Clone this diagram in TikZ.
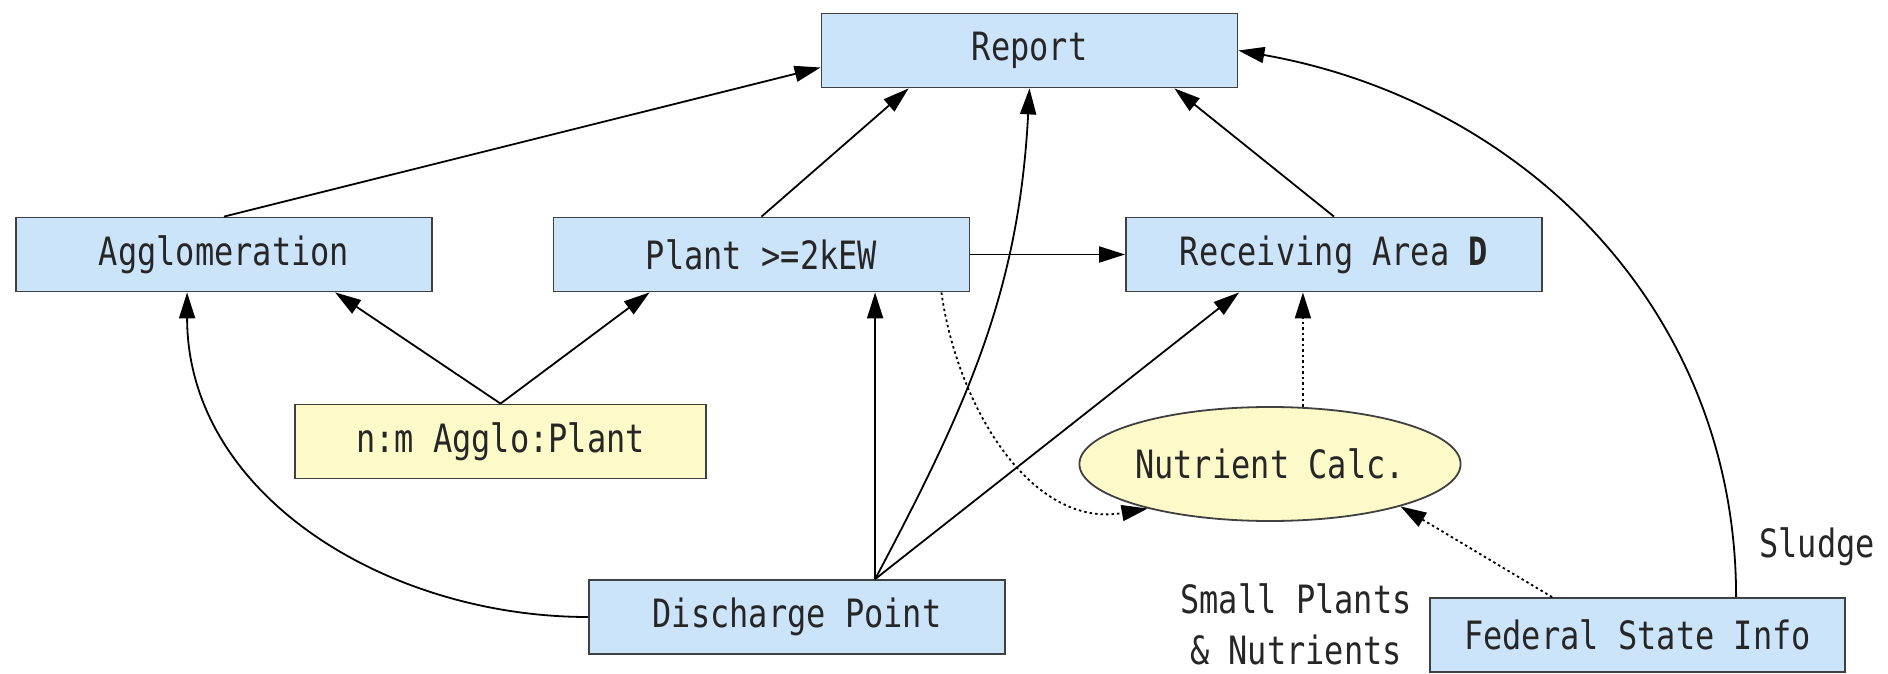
\documentclass[tikz,border=0pt]{standalone}
\usepackage{fontspec}
\setmonofont[FakeStretch=0.82]{DejaVu Sans Mono}
\usetikzlibrary{arrows.meta, calc, shapes.geometric, positioning}
\definecolor{boxblue}{HTML}{CCE4FA}
\definecolor{calcyellow}{HTML}{FCFAC8}

\begin{document}
\begin{tikzpicture}[x=1pt, y=-1pt,
        box/.style={draw=black!75, fill=boxblue, line width=1.8pt, minimum width=416pt, minimum height=74pt, inner sep=0pt, text=black!85, font=\ttfamily\fontsize{39}{44}\selectfont},
        lbl/.style={text=black!85, font=\ttfamily\fontsize{39}{51}\selectfont},
        link/.style={line width=1.8pt, -{Triangle[length=26pt, width=16pt]}},
        calclink/.style={link, dash pattern=on 2.5pt off 3pt}]
        \useasboundingbox (0,0) rectangle (1888,674);

        \node[box] (report) at (1029.5, 50.5) {Report};
        \node[box] (agglo) at (224, 254.5) {Agglomeration};
        \node[box] (plant) at (761.5, 254.5) {Plant >=2kEW};
        \node[box] (recv) at (1334, 254.5) {Receiving Area \textbf{D}};
        \node[box, fill=calcyellow, minimum width=411pt] (nm) at (500.5, 441.5) {n:m Agglo:Plant};
        \node[box, ellipse, fill=calcyellow, minimum width=344pt, minimum height=114pt] (nutr) at (1270, 464) {Nutrient Calc.};
        \node[box] (disch) at (797, 617) {Discharge Point};
        \node[box, minimum width=415pt] (fed) at (1637.5, 635) {Federal State Info};

        \coordinate (dtop) at ([xshift=287pt]disch.north west);
        \coordinate (ftop) at ([xshift=307pt]fed.north west);

        \draw[link] (agglo.north) -- ([yshift=-17pt]report.west);
        \draw[link] (plant.north) -- ([xshift=88pt]report.south west);
        \draw[link] (recv.north) -- ([xshift=-64pt]report.south east);
        \draw[link] (ftop) to[out=90, in=-10] (report.east);
        \node[lbl] (sludge) at (1817, 547) {Sludge};
        \draw[link] (plant.east) -- (recv.west);
        \draw[link] (nm.north) -- ([xshift=320pt]agglo.south west);
        \draw[link] (nm.north) -- ([xshift=97pt]plant.south west);
        \draw[link] (disch.west) to[out=180, in=-90] ([xshift=172pt]agglo.south west);
        \draw[link] (dtop) -- (dtop |- plant.south);
        \draw[link] (dtop) to[out=62, in=-93] (report.south);
        \draw[link] (dtop) -- ([xshift=114pt]recv.south west);

        % dotted: nutrient calculation
        \draw[calclink] ([xshift=-29pt]plant.south east) to[out=-82, in=190] (nutr.200);
        \draw[calclink] (nutr.60) -- (nutr.60 |- recv.south);
        \draw[calclink] ([xshift=123pt]fed.north west) -- (nutr.-18);
        \node[lbl, align=center, inner sep=0pt] (small) at (1296, 624) {Small Plants\\\& Nutrients};
    \end{tikzpicture}
\end{document}
